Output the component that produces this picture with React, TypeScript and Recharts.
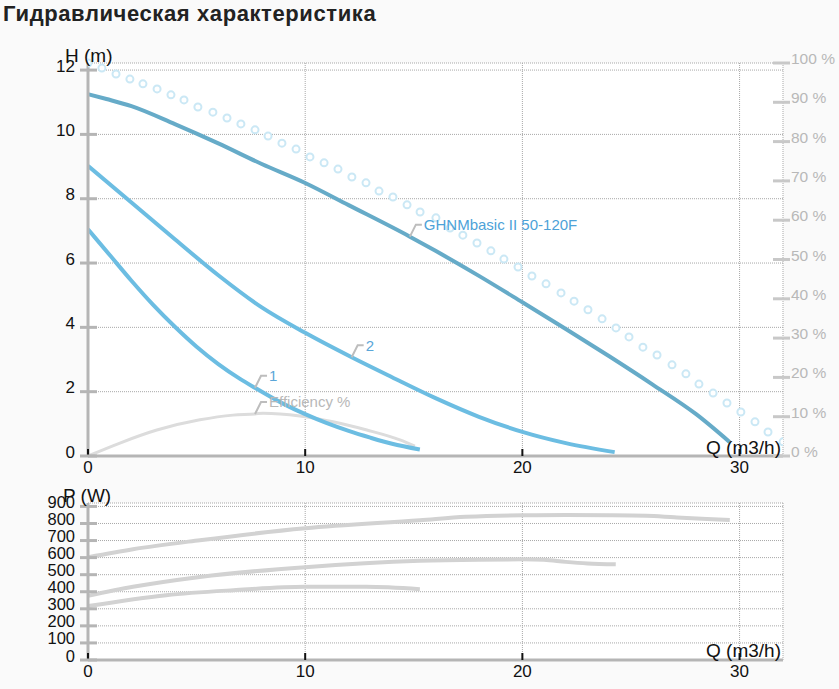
import React from 'react'
import { ComposedChart, Line, XAxis, YAxis, CartesianGrid } from 'recharts'

// x axis (flow, m3/h)
const qTicks = [0, 10, 20, 30]
const hTicks = [0, 2, 4, 6, 8, 10, 12]
const pctTicks = [0, 10, 20, 30, 40, 50, 60, 70, 80, 90, 100]
const pTicks = [0, 100, 200, 300, 400, 500, 600, 700, 800, 900]

// head curves, H (m)
const qMain = [0, 0.85, 2, 4, 6, 8, 10, 12, 14.82, 16, 18, 20, 22, 24, 26, 28, 29.55]
const hMain = [11.25, 11.1, 10.88, 10.32, 9.72, 9.08, 8.49, 7.8, 6.82, 6.38, 5.6, 4.78, 3.95, 3.1, 2.22, 1.3, 0.43]

const q2 = [0, 2, 4, 6, 8, 10, 12.14, 14, 16, 18, 20, 22, 24.25]
const h2 = [9.02, 7.88, 6.74, 5.62, 4.62, 3.83, 3.07, 2.45, 1.8, 1.22, 0.75, 0.4, 0.12]

const q1 = [0, 1, 2, 3, 4, 5, 6, 7, 7.69, 9, 10, 11, 12, 13, 14, 15.28]
const h1 = [7.05, 6.25, 5.45, 4.7, 4.02, 3.4, 2.86, 2.4, 2.12, 1.62, 1.3, 1.02, 0.78, 0.57, 0.38, 0.2]

// efficiency, %
const qEff = [0, 1.47, 3.17, 5.15, 6.68, 7.69, 8.06, 9.76, 11.28, 12.84, 14.36, 15.05]
const eff = [0, 3.3, 6.6, 9.2, 10.4, 10.7, 10.9, 10.2, 8.7, 6.6, 4.1, 2.5]

// dotted curve, %
const qDots = [0, 0.64, 1.29, 1.93, 2.53, 3.18, 3.82, 4.42, 5.06, 5.75, 6.4, 7.04, 7.69, 8.29, 8.93, 9.58, 10.22, 10.87, 11.51, 12.15, 12.8, 13.4, 14.04, 14.69, 15.29, 16.02, 16.67, 17.26, 17.91, 18.55, 19.15, 19.8, 20.44, 21.09, 21.78, 22.38, 23.02, 23.67, 24.31, 24.91, 25.55, 26.2, 26.89, 27.53, 28.13, 28.78, 29.42, 30.06, 30.71, 31.31, 32.0]
const pctDots = [100, 98.7, 97.2, 95.9, 94.7, 93.4, 91.9, 90.6, 88.8, 87.5, 86.0, 84.5, 83.0, 81.4, 79.6, 78.1, 76.1, 74.6, 73.0, 71.0, 69.5, 67.4, 65.9, 63.9, 62.1, 60.6, 58.0, 56.2, 54.2, 52.2, 50.1, 48.1, 45.8, 43.8, 41.5, 39.4, 37.2, 34.9, 32.6, 30.3, 27.7, 25.7, 23.2, 20.9, 18.3, 16.0, 13.5, 11.2, 8.7, 6.1, 3.6]

// power curves, P (W)
const qPA = [0, 2.07, 5.15, 10.0, 15.28, 17.4, 20.0, 22, 24, 25.7, 27, 28.5, 29.55]
const pA = [602, 649, 702, 772, 819, 839, 848, 849, 848, 845, 836, 826, 820]
const qPB = [0, 2.07, 5.15, 10.0, 15.28, 18, 20.0, 21, 22, 23, 24.3]
const pB = [376, 429, 487, 544, 581, 588, 590, 587, 575, 566, 561]
const qPC = [0, 3.6, 6.7, 10.0, 12.8, 15.28]
const pC = [316, 380, 409, 429, 429, 415]

const FONT = '"Liberation Sans", Arial, sans-serif'
const AXIS = '#b5b5b5'
const GRID = '#a8a8a8'

const pts = (qs: number[], vs: number[]) => qs.map((q, i) => ({ q, v: vs[i] }))

const LeftTick = ({ x, y, payload, fontSize }: any) => (
  <g>
    <line x1={x - 8} x2={x + 9} y1={y} y2={y} stroke={AXIS} strokeWidth={3} />
    <text x={x - 13} y={y + 1.5} textAnchor="end" fontSize={fontSize} fill="#111" fontFamily={FONT}>
      {payload.value}
    </text>
  </g>
)

const RightTick = ({ x, y, payload }: any) => (
  <g>
    <line x1={x - 10} x2={x + 7} y1={y} y2={y} stroke="#c8c8c8" strokeWidth={3} />
    <text x={x + 8} y={y + 1} fontSize={15.5} fill="#b8b8b8" fontFamily={FONT}>
      {payload.value} %
    </text>
  </g>
)

const BottomTick = ({ x, y, payload }: any) => (
  <g>
    <line x1={x} x2={x} y1={y - 7} y2={y} stroke="#111" strokeWidth={2} />
    <text x={x} y={y + 17} textAnchor="middle" fontSize={17} fill="#111" fontFamily={FONT}>
      {payload.value}
    </text>
  </g>
)

// leader label attached to one point of a series
const leaderDot = (atQ: number, text: string, color: string) => (p: any) => {
  const { cx, cy, index, payload } = p
  if (payload.q !== atQ) return <g key={index} />
  return (
    <g key={index}>
      <polyline
        points={`${cx},${cy} ${cx + 6},${cy - 12} ${cx + 12},${cy - 12}`}
        fill="none" stroke="#bdbdbd" strokeWidth={2}
      />
      <text x={cx + 14} y={cy - 12} dy="0.35em" fontSize={15} fill={color} fontFamily={FONT}>
        {text}
      </text>
    </g>
  )
}

const txt = (s: string, pos: any, size: number, extra: any = {}) => (
  <div style={{ position: 'absolute', ...pos, fontSize: size, lineHeight: 1, fontFamily: FONT, color: '#111', whiteSpace: 'nowrap', ...extra }}>
    {s}
  </div>
)

export default function App() {
  return (
    <div style={{ position: 'fixed', left: 0, top: 0, width: 839, height: 689, background: '#fafafa', overflow: 'hidden', fontFamily: FONT }}>
      {txt('Гидравлическая характеристика', { left: 3, top: 3 }, 22, { fontWeight: 'bold', color: '#222', letterSpacing: 0.6 })}

      <div style={{ position: 'absolute', left: 0, top: 0 }}>
        <ComposedChart width={839} height={480} margin={{ top: 63, right: 0, bottom: 0, left: 0 }}>
          <CartesianGrid yAxisId="h" fill="#fff" stroke={GRID} strokeDasharray="1 1" />
          <XAxis
            type="number" dataKey="q" domain={[0, 32]} ticks={qTicks} height={24}
            axisLine={{ stroke: AXIS, strokeWidth: 3 }} tickLine={false} tickSize={0} tickMargin={0}
            tick={<BottomTick />} interval={0} allowDataOverflow
          />
          <YAxis
            yAxisId="h" type="number" domain={[0, 12.22]} ticks={hTicks} width={88}
            axisLine={{ stroke: AXIS, strokeWidth: 3 }} tickLine={false} tickSize={0} tickMargin={0}
            tick={<LeftTick fontSize={17} />} interval={0} allowDataOverflow
          />
          <YAxis
            yAxisId="pct" orientation="right" type="number" domain={[0, 100]} ticks={pctTicks} width={56}
            axisLine={false} tickLine={false} tickSize={0} tickMargin={0}
            tick={<RightTick />} interval={0}
          />
          <Line
            yAxisId="pct" data={pts(qDots, pctDots)} dataKey="v" stroke="none"
            dot={{ r: 3.5, stroke: '#cbe8f5', strokeWidth: 2, fill: '#fff' }}
            isAnimationActive={false}
          />
          <Line
            yAxisId="pct" data={pts(qEff, eff)} dataKey="v" type="monotone"
            stroke="#dcdcdc" strokeWidth={3} dot={leaderDot(7.69, 'Efficiency %', '#b8b8b8')}
            isAnimationActive={false}
          />
          <Line
            yAxisId="h" data={pts(q1, h1)} dataKey="v" type="monotone"
            stroke="#6cbde2" strokeWidth={4} dot={leaderDot(7.69, '1', '#5aa6d8')}
            isAnimationActive={false}
          />
          <Line
            yAxisId="h" data={pts(q2, h2)} dataKey="v" type="monotone"
            stroke="#6cbde2" strokeWidth={4} dot={leaderDot(12.14, '2', '#5aa6d8')}
            isAnimationActive={false}
          />
          <Line
            yAxisId="h" data={pts(qMain, hMain)} dataKey="v" type="monotone"
            stroke="#66abc8" strokeWidth={4} dot={leaderDot(14.82, 'GHNMbasic II 50-120F', '#4da2d8')}
            isAnimationActive={false}
          />
        </ComposedChart>
      </div>

      <div style={{ position: 'absolute', left: 0, top: 480 }}>
        <ComposedChart width={839} height={209} margin={{ top: 23, right: 56, bottom: 0, left: 0 }}>
          <CartesianGrid yAxisId="p" fill="#fff" stroke={GRID} strokeDasharray="1 1" />
          <XAxis
            type="number" dataKey="q" domain={[0, 32]} ticks={qTicks} height={29}
            axisLine={{ stroke: AXIS, strokeWidth: 3 }} tickLine={false} tickSize={0} tickMargin={0}
            tick={<BottomTick />} interval={0} allowDataOverflow
          />
          <YAxis
            yAxisId="p" type="number" domain={[0, 920]} ticks={pTicks} width={88}
            axisLine={{ stroke: AXIS, strokeWidth: 3 }} tickLine={false} tickSize={0} tickMargin={0}
            tick={<LeftTick fontSize={16.5} />} interval={0} allowDataOverflow
          />
          <Line yAxisId="p" data={pts(qPA, pA)} dataKey="v" type="monotone" stroke="#d2d2d2" strokeWidth={4} dot={false} isAnimationActive={false} />
          <Line yAxisId="p" data={pts(qPB, pB)} dataKey="v" type="monotone" stroke="#d2d2d2" strokeWidth={4} dot={false} isAnimationActive={false} />
          <Line yAxisId="p" data={pts(qPC, pC)} dataKey="v" type="monotone" stroke="#d2d2d2" strokeWidth={4} dot={false} isAnimationActive={false} />
        </ComposedChart>
      </div>

      {txt('H (m)', { left: 65, top: 46 }, 19)}
      {txt('Q (m3/h)', { right: 58, top: 438 }, 19)}
      {txt('P (W)', { left: 63, top: 486 }, 19)}
      {txt('Q (m3/h)', { right: 58, top: 641 }, 19)}
    </div>
  )
}
